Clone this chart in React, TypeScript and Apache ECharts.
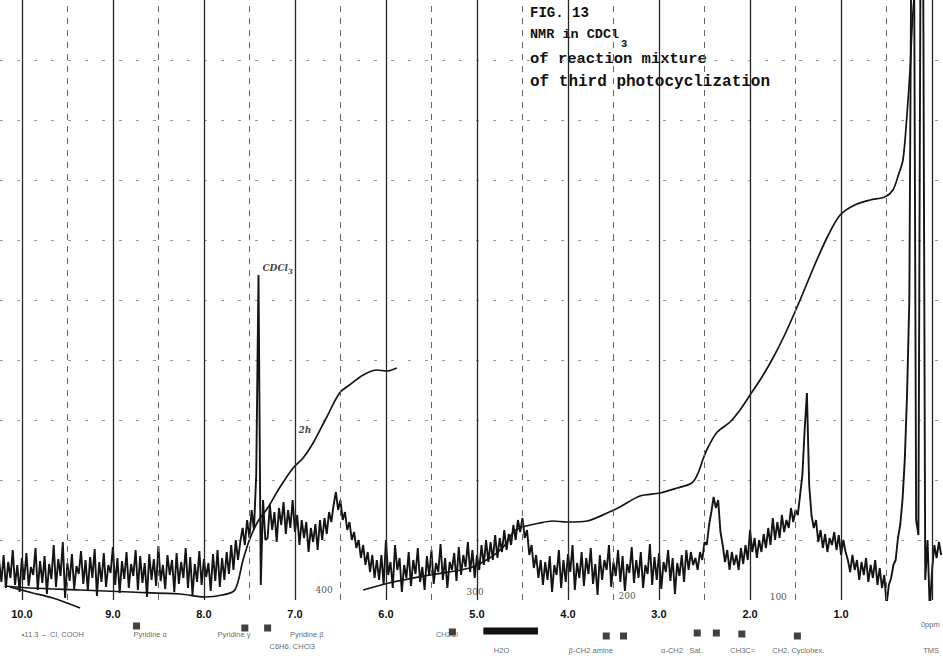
import { useEffect, useRef } from "react";
import * as echarts from "echarts";

// Chemical shift sampling step of the trace (ppm)
const PPM_STEP = 0.025;

// Trace intensities, read segment by segment from low to high field
const lowFieldBaseline = [
  40, 18, 45, 12, 38, 22, 50, 15, 35, 8, 42, 20, 47, 14, 33, 25, 52, 10, 39, 17,
  44, 6, 36, 21, 55, 13, 41, 24, 58, 2, 37, 19, 46, 11, 34, 26, 49, 16, 40, 9,
  43, 22, 51, 4, 38, 18, 47, 13, 35, 27, 53, 15, 42, 7, 39, 21, 48, 12, 36, 24,
  50, 10, 44, 17, 37, 3, 46, 20, 41, 14, 54, 19, 35, 11, 45, 25, 40, 8, 47, 16,
  38, 22, 52, 12, 43, 5, 36, 18, 49, 15, 41, 23, 37, 9, 46, 19, 50, 13, 42, 20,
  48, 26, 55, 30, 60, 40,
];
const chloroformLine = [58, 72, 55, 80, 62, 90, 70, 125, 325, 15, 100, 60];
const aromaticPlateau = [
  62, 95, 70, 88, 58, 92, 75, 98, 66, 90, 72, 100, 68, 85, 55, 80, 62, 78, 48, 72,
  58, 76, 50, 80, 60, 82, 66, 88,
];
const olefinicHump = [78, 95, 108, 90, 100, 80, 88, 70, 78, 60, 68, 52, 60, 42, 55, 35, 48, 28, 45, 22, 40];
const midBaseline = [
  20, 45, 15, 60, 25, 38, 12, 55, 30, 42, 8, 35, 22, 48, 14, 40, 26, 52, 18, 33,
  10, 44, 24, 50, 16, 37, 28, 56, 20, 42, 12, 38, 30, 47, 19, 53, 25, 45, 33, 58,
];
const methinePeak = [
  28, 50, 22, 45, 30, 55, 35, 60, 38, 58, 40, 65, 42, 62, 48, 70, 50, 66, 55, 75,
  60, 80, 68, 82, 62, 70, 45, 55, 32, 45, 22, 40,
];
const upfieldBaseline = [
  15, 38, 20, 44, 8, 35, 25, 50, 12, 40, 18, 46, 28, 55, 10, 37, 22, 48, 14, 42,
  26, 52, 16, 36, 5, 45, 20, 40, 30, 55, 13, 38, 24, 50, 18, 44, 9, 36, 27, 53,
  17, 40, 22, 48, 12, 35, 26, 56, 15, 43, 20, 47, 11, 38, 28, 50, 19, 42, 6, 37,
  24, 45, 18, 50, 30, 48, 35,
];
const allylicPeak = [42, 30, 48, 40, 58, 55, 75, 88, 103, 92, 100, 68, 55, 38, 50, 30, 48, 35];
const aliphaticRise = [
  45, 30, 52, 36, 55, 40, 70, 48, 62, 42, 60, 48, 66, 52, 72, 55, 82, 60, 78, 62,
  85, 68, 80, 72, 92, 78,
];
const methyleneAndTms = [
  90, 85, 105, 125, 170, 207, 115, 85, 72, 80, 58, 70, 52, 66, 48, 62, 55, 68, 50, 65,
  45, 60, 48, 40, 28, 45, 30, 40, 20, 38, 25, 42, 18, 35, 22, 40, 15, 32, 12, 25,
  -5, 15, 22, 35, 40, 62, 75, 100, 140, 205, 300, 700, 700, 80, 65, 700, 700, 20, 60, -10,
  30, 55, 42, 58, 45,
];

// Each segment starts at the given chemical shift (ppm)
const spectrumSegments: [number, number[]][] = [
  [10.25, lowFieldBaseline],
  [7.6, chloroformLine],
  [7.3, aromaticPlateau],
  [6.6, olefinicHump],
  [6.075, midBaseline],
  [5.075, methinePeak],
  [4.275, upfieldBaseline],
  [2.6, allylicPeak],
  [2.15, aliphaticRise],
  [1.5, methyleneAndTms],
];

// Integral traces [ppm, height]
const integralLowFieldTail: [number, number][] = [
  [10.13, 13], [9.88, 7], [9.66, 2], [9.36, -8],
];
const integralAromatic: [number, number][] = [
  [10.19, 14], [9.91, 12], [9.36, 10], [8.81, 8], [8.26, 6], [7.99, 3], [7.8, 5],
  [7.66, 10], [7.57, 40], [7.5, 60], [7.41, 78], [7.3, 92], [7.17, 112], [7.02, 132],
  [6.91, 142], [6.8, 157], [6.65, 183], [6.51, 207], [6.4, 215], [6.25, 225],
  [6.1, 230], [5.99, 229], [5.88, 232],
];
const integralAliphatic: [number, number][] = [
  [6.25, 10], [5.92, 18], [5.52, 25], [5.08, 32], [4.86, 42], [4.71, 53], [4.6, 68],
  [4.5, 73], [4.31, 77], [4.17, 79], [4.01, 78], [3.79, 79], [3.57, 87], [3.43, 93],
  [3.21, 104], [2.99, 107], [2.8, 112], [2.64, 117], [2.57, 127], [2.52, 140],
  [2.46, 153], [2.36, 168], [2.22, 178], [2.11, 190], [2.0, 205], [1.89, 220],
  [1.76, 240], [1.62, 265], [1.45, 300], [1.29, 335], [1.14, 365], [1.01, 385],
  [0.85, 395], [0.68, 400], [0.52, 403], [0.43, 410], [0.37, 425], [0.32, 440],
  [0.28, 480], [0.24, 533], [0.22, 573], [0.2, 600],
];

// Axis tick labels (ppm)
const ppmTicks = [10, 9, 8, 7, 6, 5, 4, 3, 2, 1];
const wholePpmLines = [10, 9, 8, 7, 6, 5, 4, 3, 2, 1, 0];
const halfPpmLines = [9.5, 8.5, 7.5, 6.5, 5.5, 4.5, 3.5, 2.5, 1.5, 0.5];

// Frequency offsets (Hz) printed on the chart paper
const hzLabels = ["400", "300", "200", "100"];
const hzPositions: [number, number][] = [[6.68, 10], [5.02, 8], [3.35, 4], [1.69, 3]];

// Reference shift markers under the axis
const referenceMarks: [number, number][] = [
  [8.74, -26], [7.55, -28], [7.3, -28], [5.27, -32], [3.58, -36], [3.39, -36],
  [2.58, -33], [2.37, -33], [2.09, -34], [1.48, -36],
];
const waterBand: [number, number][] = [[4.93, -31], [4.33, -31]];
const referenceNames = [
  "•11.3 ← Cl, COOH", "Pyridine α", "Pyridine γ", "Pyridine β", "C6H6, CHCl3",
  "CH2Cl", "H2O", "β-CH2 amine", "α-CH2   Sat.", "CH3C=", "CH2, Cyclohex.", "TMS", "0ppm",
];
const referenceNamePositions: [number, number][] = [
  [9.66, -34], [8.59, -34], [7.67, -34], [6.87, -34], [7.03, -46],
  [5.33, -34], [4.73, -50], [3.75, -50], [2.75, -50], [2.08, -50], [1.47, -50], [0.01, -50], [0.02, -24],
];

function buildSpectrum(): [number, number][] {
  const pts: [number, number][] = [];
  for (const [start, values] of spectrumSegments) {
    values.forEach((v, k) => pts.push([+(start - k * PPM_STEP).toFixed(4), v]));
  }
  return pts;
}

const ink = "#141414";

export default function App() {
  const ref = useRef<HTMLDivElement>(null);

  useEffect(() => {
    if (!ref.current) return;
    const chart = echarts.init(ref.current, undefined, { renderer: "svg" });

    const gridLines = [
      ...wholePpmLines.map((p) => ({
        xAxis: p,
        lineStyle: { color: "#262626", width: 1.3, type: "solid" as const },
      })),
      ...halfPpmLines.map((p) => ({
        xAxis: p,
        lineStyle: { color: "#666", width: 1, type: [6, 6] as any },
      })),
    ];

    const integralStyle = { color: ink, width: 1.7 };

    const textLabel = (size: number, color: string, family: string) => ({
      show: true,
      position: "inside",
      formatter: "{b}",
      color,
      fontSize: size,
      fontFamily: family,
      textBorderWidth: 0,
      textBorderColor: "transparent",
    });

    const option: any = {
      animation: false,
      backgroundColor: "#ffffff",
      grid: { left: 0, right: 0, top: 0, bottom: 59, containLabel: false },
      xAxis: {
        type: "value",
        min: -0.12,
        max: 10.24,
        inverse: true,
        axisLine: { show: false },
        axisTick: { show: false },
        splitLine: { show: false },
        axisLabel: {
          customValues: ppmTicks,
          formatter: (v: number) => v.toFixed(1),
          color: "#111",
          fontSize: 11,
          fontWeight: "bold",
          fontFamily: "Liberation Sans",
          margin: 8,
        },
      },
      yAxis: {
        type: "value",
        min: 0,
        max: 600,
        interval: 60,
        axisLine: { show: false },
        axisTick: { show: false },
        axisLabel: { show: false },
        splitLine: {
          show: true,
          showMinLine: false,
          showMaxLine: false,
          lineStyle: { color: "#9a9a9a", width: 1, type: [3, 14] },
        },
      },
      series: [
        {
          name: "NMR",
          type: "line",
          data: buildSpectrum(),
          showSymbol: false,
          clip: true,
          lineStyle: { color: ink, width: 1.9 },
          z: 3,
          markLine: {
            silent: true,
            symbol: ["none", "none"],
            label: { show: false },
            data: gridLines,
          },
        },
        {
          name: "integral tail",
          type: "line",
          data: integralLowFieldTail,
          showSymbol: false,
          smooth: 0.3,
          clip: false,
          lineStyle: integralStyle,
          z: 4,
        },
        {
          name: "integral aromatic",
          type: "line",
          data: integralAromatic,
          showSymbol: false,
          smooth: 0.3,
          clip: false,
          lineStyle: integralStyle,
          z: 4,
        },
        {
          name: "integral aliphatic",
          type: "line",
          data: integralAliphatic,
          showSymbol: false,
          smooth: 0.3,
          clip: true,
          lineStyle: integralStyle,
          z: 4,
        },
        {
          name: "reference marks",
          type: "scatter",
          data: referenceMarks,
          symbol: "rect",
          symbolSize: [7, 7],
          clip: false,
          itemStyle: { color: "#111" },
          z: 5,
        },
        {
          name: "water band",
          type: "line",
          data: waterBand,
          showSymbol: false,
          clip: false,
          lineStyle: { color: "#111", width: 7, cap: "butt" },
          z: 5,
        },
        {
          name: "reference names",
          type: "scatter",
          clip: false,
          symbolSize: 0,
          itemStyle: { color: "#333" },
          data: referenceNames.map((n, i) => ({ name: n, value: referenceNamePositions[i] })),
          label: textLabel(7.5, "#3a3a3a", "Liberation Sans"),
          z: 5,
        },
        {
          name: "Hz scale",
          type: "scatter",
          clip: false,
          symbolSize: 0,
          itemStyle: { color: "#222" },
          data: hzLabels.map((n, i) => ({ name: n, value: hzPositions[i] })),
          label: textLabel(9, "#222", "DejaVu Serif"),
          z: 6,
        },
        {
          name: "notes",
          type: "scatter",
          clip: false,
          symbolSize: 0,
          itemStyle: { color: "#111" },
          data: [
            { name: "CDCl3", value: [7.19, 332] },
            { name: "2h", value: [6.89, 170] },
          ],
          label: {
            ...textLabel(9, "#111", "DejaVu Serif"),
            formatter: (p: any) => (p.name === "CDCl3" ? "CDCl{s|3}" : p.name),
            fontWeight: "bold",
            fontStyle: "italic",
            rich: {
              s: { fontSize: 7, fontWeight: "bold", fontStyle: "italic", color: "#111", padding: [6, 0, 0, 0] },
            },
          },
          z: 6,
        },
      ],
      graphic: [
        {
          type: "text",
          left: 530,
          top: 6,
          style: { text: "FIG. 13", fontFamily: "Liberation Mono", fontWeight: "bold", fontSize: 14, fill: "#111" },
        },
        {
          type: "text",
          left: 530,
          top: 27,
          style: { text: "NMR in CDCl", fontFamily: "Liberation Mono", fontWeight: "bold", fontSize: 13.5, fill: "#111" },
        },
        {
          type: "text",
          left: 621,
          top: 38,
          style: { text: "3", fontFamily: "Liberation Mono", fontWeight: "bold", fontSize: 10.5, fill: "#111" },
        },
        {
          type: "text",
          left: 530,
          top: 51,
          style: { text: "of reaction mixture", fontFamily: "Liberation Mono", fontWeight: "bold", fontSize: 15.5, fill: "#111" },
        },
        {
          type: "text",
          left: 530,
          top: 74,
          style: { text: "of third photocyclization", fontFamily: "Liberation Mono", fontWeight: "bold", fontSize: 16, fill: "#111" },
        },
      ],
    };

    chart.setOption(option);
    return () => chart.dispose();
  }, []);

  return (
    <div
      ref={ref}
      style={{ position: "fixed", left: 0, top: 0, width: 943, height: 659, background: "#fff" }}
    />
  );
}
